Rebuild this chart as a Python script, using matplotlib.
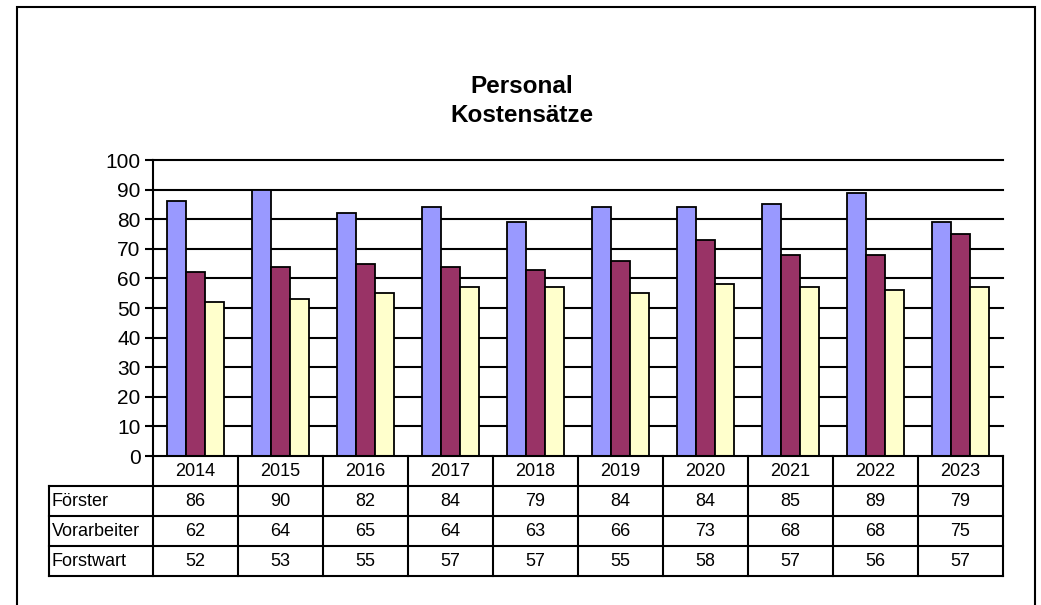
import matplotlib.pyplot as plt
from matplotlib.patches import Rectangle

plt.rcParams['font.family'] = ['Liberation Sans', 'DejaVu Sans']

years = ['2014', '2015', '2016', '2017', '2018', '2019', '2020', '2021', '2022', '2023']
series_names = ['Förster', 'Vorarbeiter', 'Forstwart']
foerster = [86, 90, 82, 84, 79, 84, 84, 85, 89, 79]
vorarbeiter = [62, 64, 65, 64, 63, 66, 73, 68, 68, 75]
forstwart = [52, 53, 55, 57, 57, 55, 58, 57, 56, 57]
colors = ['#9999FF', '#993366', '#FFFFCC']

W, H = 1041, 605
fig = plt.figure(figsize=(W / 100, H / 100), dpi=100)

# outer chart frame
fig.patches.append(Rectangle((17 / W, -0.02), (1035 - 17) / W, 1 - 7 / H + 0.02,
                             transform=fig.transFigure, fill=False,
                             edgecolor='black', lw=1.5))

# plot area: x 153..1003, y 160..456 (pixels)
ax = fig.add_axes([153 / W, 1 - 456 / H, (1003 - 153) / W, (456 - 160) / H])
n = len(years)
ax.set_xlim(-0.5, n - 0.5)
ax.set_ylim(0, 100)

for v in range(10, 101, 10):
    ax.axhline(v, color='black', lw=1.5, zorder=1, clip_on=False)

bw = 0.227
data = [foerster, vorarbeiter, forstwart]
for k, (vals, c) in enumerate(zip(data, colors)):
    xs = [i + (k - 1) * bw for i in range(n)]
    ax.bar(xs, vals, width=bw, color=c, edgecolor='black', lw=1.3, zorder=3)

for s in ['top', 'right', 'bottom']:
    ax.spines[s].set_visible(False)
ax.spines['left'].set_linewidth(1.5)
ax.set_xticks([])
ax.set_yticks(range(0, 101, 10))
ax.tick_params(axis='y', length=6, width=1.5, labelsize=15, pad=3)

fig.text(522 / W, 1 - 101 / H, 'Personal\nKostensätze', ha='center', va='center',
         fontsize=17.5, fontweight='bold', linespacing=1.35)

# data table below the axis (x in data units, y in axes fraction)
tr = ax.get_xaxis_transform()
rh = 30 / 296
lab_left = -0.5 - 104 / 85
lw = 1.5
rows = len(series_names) + 1
bottom = -rows * rh
# horizontal lines
ax.plot([-0.5, n - 0.5], [0, 0], color='black', lw=lw, transform=tr, clip_on=False, zorder=5)
for r in range(1, rows + 1):
    ax.plot([lab_left, n - 0.5], [-r * rh, -r * rh], color='black', lw=lw,
            transform=tr, clip_on=False)
# vertical lines
for i in range(n + 1):
    ax.plot([i - 0.5, i - 0.5], [0, bottom], color='black', lw=lw, transform=tr, clip_on=False)
ax.plot([lab_left, lab_left], [-rh, bottom], color='black', lw=lw, transform=tr, clip_on=False)

for i, y in enumerate(years):
    ax.text(i, -0.5 * rh, y, ha='center', va='center', fontsize=13, transform=tr)
for r, (name, vals) in enumerate(zip(series_names, data), start=1):
    yc = -(r + 0.5) * rh
    ax.text(lab_left + 0.03, yc, name, ha='left', va='center', fontsize=13, transform=tr)
    for i, v in enumerate(vals):
        ax.text(i, yc, str(v), ha='center', va='center', fontsize=13, transform=tr)

fig.savefig('out.png', dpi=100)
